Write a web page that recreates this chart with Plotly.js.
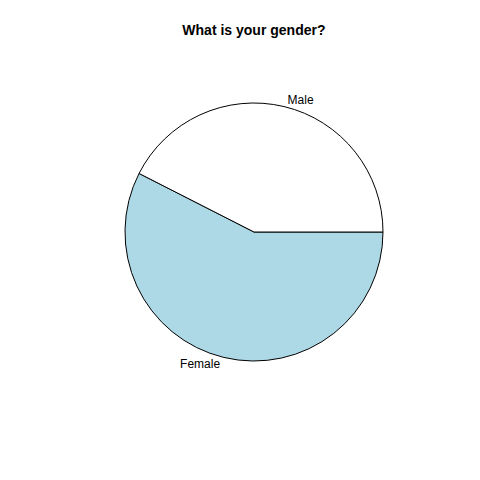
<!DOCTYPE html>
<html>
<head>
<meta charset="utf-8">
<script src="https://cdn.plot.ly/plotly-3.0.1.min.js"></script>
<style>html,body{margin:0;padding:0;background:#fff;}</style>
</head>
<body>
<div id="chart" style="width:480px;height:480px;"></div>
<script>
var categories = ["Female", "Male"];
var counts = [23, 17];
var sliceColors = ["#ADD8E6", "#FFFFFF"];

var trace = {
  type: "pie",
  labels: categories,
  values: counts,
  sort: false,
  direction: "counterclockwise",
  rotation: 90,
  marker: { colors: sliceColors, line: { color: "#000000", width: 1 } },
  textinfo: "label",
  textposition: "outside",
  automargin: false,
  outsidetextfont: { family: "Liberation Sans, Arial, sans-serif", size: 12, color: "#000000" },
  hoverinfo: "label+value",
  showlegend: false,
  domain: { x: [0.2604, 0.7979], y: [0.2479, 0.7854] }
};

var layout = {
  width: 480,
  height: 480,
  margin: { l: 0, r: 0, t: 0, b: 0 },
  paper_bgcolor: "#FFFFFF",
  plot_bgcolor: "#FFFFFF",
  title: {
    text: "<b>What is your gender?</b>",
    x: 0.529, xanchor: "center",
    y: 0.9375, yanchor: "middle",
    font: { family: "Liberation Sans, Arial, sans-serif", size: 14, color: "#000000" }
  }
};

Plotly.newPlot("chart", [trace], layout, { displayModeBar: false, staticPlot: true });
</script>
</body>
</html>
